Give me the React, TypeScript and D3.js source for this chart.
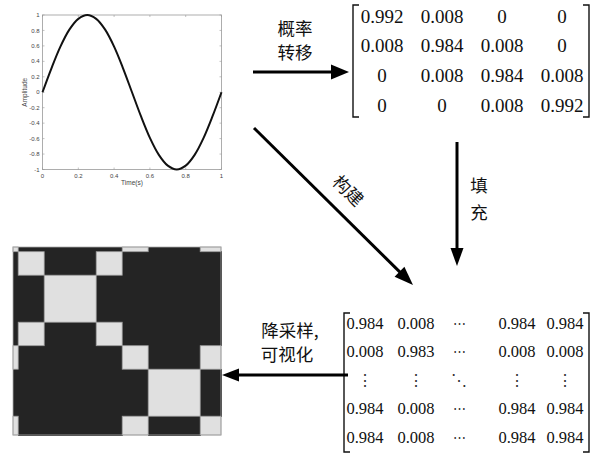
import React from 'react';
import * as d3 from 'd3';

// sine signal
const timeValues = [0, 0.05, 0.1, 0.15, 0.2, 0.25, 0.3, 0.35, 0.4, 0.45, 0.5, 0.55, 0.6, 0.65, 0.7, 0.75, 0.8, 0.85, 0.9, 0.95, 1];
const ampValues = [0, 0.31, 0.59, 0.81, 0.95, 1, 0.95, 0.81, 0.59, 0.31, 0, -0.31, -0.59, -0.81, -0.95, -1, -0.95, -0.81, -0.59, -0.31, 0];
const xTicks = [0, 0.2, 0.4, 0.6, 0.8, 1];
const yTicks = [1, 0.8, 0.6, 0.4, 0.2, 0, -0.2, -0.4, -0.6, -0.8, -1];

// 4x4 transition matrix
const topMatrix = [
  ['0.992', '0.008', '0', '0'],
  ['0.008', '0.984', '0.008', '0'],
  ['0', '0.008', '0.984', '0.008'],
  ['0', '0', '0.008', '0.992'],
];

// filled field (abbreviated)
const bottomMatrix = [
  ['0.984', '0.008', '\u22ef', '0.984', '0.984'],
  ['0.008', '0.983', '\u22ef', '0.008', '0.008'],
  ['\u22ee', '\u22ee', '\u22f1', '\u22ee', '\u22ee'],
  ['0.984', '0.008', '\u22ef', '0.984', '0.984'],
  ['0.984', '0.008', '\u22ef', '0.984', '0.984'],
];

// downsampled field: block edges (sample index) and block values
const blockEdges = [0, 1, 6, 16, 21, 26, 36, 40];
const blockValues = [
  [0.984, 0.008, 0.008, 0.008, 0.984, 0.008, 0.984],
  [0.008, 0.984, 0.008, 0.984, 0.008, 0.008, 0.008],
  [0.008, 0.008, 0.984, 0.008, 0.008, 0.008, 0.008],
  [0.008, 0.984, 0.008, 0.984, 0.008, 0.008, 0.008],
  [0.984, 0.008, 0.008, 0.008, 0.984, 0.008, 0.984],
  [0.008, 0.008, 0.008, 0.008, 0.008, 0.984, 0.008],
  [0.984, 0.008, 0.008, 0.008, 0.984, 0.008, 0.984],
];

const cjk = '"Noto Sans CJK SC", sans-serif';
const serif = '"Liberation Serif", "Times New Roman", serif';

function Arrow({ x1, y1, x2, y2, head = 17, half = 7 }: any) {
  const ang = Math.atan2(y2 - y1, x2 - x1);
  const bx = x2 - head * Math.cos(ang);
  const by = y2 - head * Math.sin(ang);
  const px = -Math.sin(ang) * half;
  const py = Math.cos(ang) * half;
  return (
    <g>
      <line x1={x1} y1={y1} x2={bx + Math.cos(ang)} y2={by + Math.sin(ang)} stroke="#000" strokeWidth={3} />
      <polygon points={`${x2},${y2} ${bx + px},${by + py} ${bx - px},${by - py}`} fill="#000" />
    </g>
  );
}

function Bracket({ x1, x2, y1, y2 }: any) {
  const s = 6;
  return (
    <g fill="none" stroke="#111" strokeWidth={1.4}>
      <path d={`M${x1 + s},${y1}H${x1}V${y2}H${x1 + s}`} />
      <path d={`M${x2 - s},${y1}H${x2}V${y2}H${x2 - s}`} />
    </g>
  );
}

export default function App() {
  // sine plot
  const px = d3.scaleLinear().domain([0, 1]).range([42.5, 221.5]);
  const py = d3.scaleLinear().domain([-1, 1]).range([169.5, 15]);
  const line = d3.line<number>()
    .x((_, i) => px(timeValues[i]))
    .y(d => py(d))
    .curve(d3.curveCatmullRom);

  // matrices
  const tcx = d3.scalePoint<number>().domain([0, 1, 2, 3]).range([382, 562]);
  const tcy = d3.scalePoint<number>().domain([0, 1, 2, 3]).range([16, 105]);
  const bcx = d3.scaleOrdinal<number, number>().domain([0, 1, 2, 3, 4]).range([365, 416, 459, 517, 565]);
  const bcy = d3.scalePoint<number>().domain([0, 1, 2, 3, 4]).range([323, 437]);

  // heatmap
  const hx = d3.scaleLinear().domain([0, 40]).range([13, 221]);
  const hy = d3.scaleLinear().domain([0, 40]).range([247, 435]);
  const shade = d3.scaleLinear<string>().domain([0, 1]).range(['#222222', '#e3e3e3']);

  const cells = blockValues.flatMap((row, r) => row.map((v, c) => ({ r, c, v })));

  return (
    <svg width={600} height={454} style={{ position: 'absolute', left: 0, top: 0, background: '#fff' }}>
      {/* sine plot */}
      <g fontFamily='"Liberation Sans", Arial, sans-serif' fill="#444">
        <rect x={px(0)} y={py(1)} width={px(1) - px(0)} height={py(-1) - py(1)} fill="none" stroke="#999" strokeWidth={0.8} />
        {yTicks.map(t => (
          <g key={'y' + t}>
            <line x1={px(0)} x2={px(0) + 2} y1={py(t)} y2={py(t)} stroke="#999" strokeWidth={0.6} />
            <line x1={px(1)} x2={px(1) - 2} y1={py(t)} y2={py(t)} stroke="#999" strokeWidth={0.6} />
            <text x={px(0) - 3} y={py(t)} dy="0.35em" textAnchor="end" fontSize={6}>{t}</text>
          </g>
        ))}
        {xTicks.map(t => (
          <g key={'x' + t}>
            <line x1={px(t)} x2={px(t)} y1={py(-1)} y2={py(-1) - 2} stroke="#999" strokeWidth={0.6} />
            <line x1={px(t)} x2={px(t)} y1={py(1)} y2={py(1) + 2} stroke="#999" strokeWidth={0.6} />
            <text x={px(t)} y={py(-1) + 8} textAnchor="middle" fontSize={6}>{t}</text>
          </g>
        ))}
        <text x={(px(0) + px(1)) / 2} y={185} textAnchor="middle" fontSize={6.5}>Time(s)</text>
        <text transform={`translate(27,${(py(1) + py(-1)) / 2}) rotate(-90)`} textAnchor="middle" fontSize={6.5}>Amplitude</text>
        <path d={line(ampValues) || ''} fill="none" stroke="#111" strokeWidth={2} />
      </g>

      {/* top matrix */}
      <Bracket x1={353} x2={589} y1={5} y2={117} />
      <g fontFamily={serif} fontSize={19} fill="#111" textAnchor="middle">
        {topMatrix.map((row, r) => row.map((v, c) => (
          <text key={r + '-' + c} x={tcx(c)} y={tcy(r)} dy="0.35em">{v}</text>
        )))}
      </g>

      {/* bottom matrix */}
      <Bracket x1={344} x2={589} y1={313} y2={452} />
      <g fontFamily={serif} fill="#111" textAnchor="middle">
        {bottomMatrix.map((row, r) => row.map((v, c) => (
          <text key={r + '-' + c} x={bcx(c)} y={bcy(r)} dy="0.35em"
            fill={v.length === 1 ? '#333' : '#111'}
            fontFamily={v.length === 1 ? '"DejaVu Serif", serif' : serif}
            fontSize={v.length === 1 ? (r === 2 ? 16 : 13) : 16.5}>{v}</text>
        )))}
      </g>

      {/* heatmap */}
      <g shapeRendering="crispEdges">
        {cells.filter(d => d.v < 0.5).map(d => (
          <rect key={d.r + '-' + d.c}
            x={hx(blockEdges[d.c]) - 0.5} y={hy(blockEdges[d.r]) - 0.5}
            width={hx(blockEdges[d.c + 1]) - hx(blockEdges[d.c]) + 1}
            height={hy(blockEdges[d.r + 1]) - hy(blockEdges[d.r]) + 1}
            fill={shade(d.v)} />
        ))}
      </g>
      <g>
        {cells.filter(d => d.v >= 0.5).map(d => (
          <rect key={d.r + '-' + d.c}
            x={hx(blockEdges[d.c])} y={hy(blockEdges[d.r])}
            width={hx(blockEdges[d.c + 1]) - hx(blockEdges[d.c])}
            height={hy(blockEdges[d.r + 1]) - hy(blockEdges[d.r])}
            fill={shade(d.v)} stroke="#9a9a9a" strokeWidth={0.8} />
        ))}
        <rect x={hx(0)} y={hy(0)} width={hx(40) - hx(0)} height={hy(40) - hy(0)} fill="none" stroke="#aaa" strokeWidth={0.8} />
      </g>

      {/* arrows */}
      <Arrow x1={253} y1={72} x2={349} y2={72} head={18} half={7.5} />
      <Arrow x1={457} y1={142} x2={457} y2={266} head={18} half={6.5} />
      <Arrow x1={254} y1={128} x2={413} y2={285} head={19} half={7} />
      <Arrow x1={348} y1={375} x2={222} y2={375} head={17} half={6.5} />

      {/* labels */}
      <g fontFamily={cjk} fontSize={17.5} fill="#111" textAnchor="middle">
        <text x={295} y={29} dy="0.35em">概率</text>
        <text x={295} y={53} dy="0.35em">转移</text>
        <text x={479} y={186} dy="0.35em">填</text>
        <text x={479} y={213} dy="0.35em">充</text>
        <text x={290} y={331} dy="0.35em">降采样,</text>
        <text x={287} y={355} dy="0.35em">可视化</text>
        <text transform="translate(348,191) rotate(44.5)" dy="0.35em">构建</text>
      </g>
    </svg>
  );
}
